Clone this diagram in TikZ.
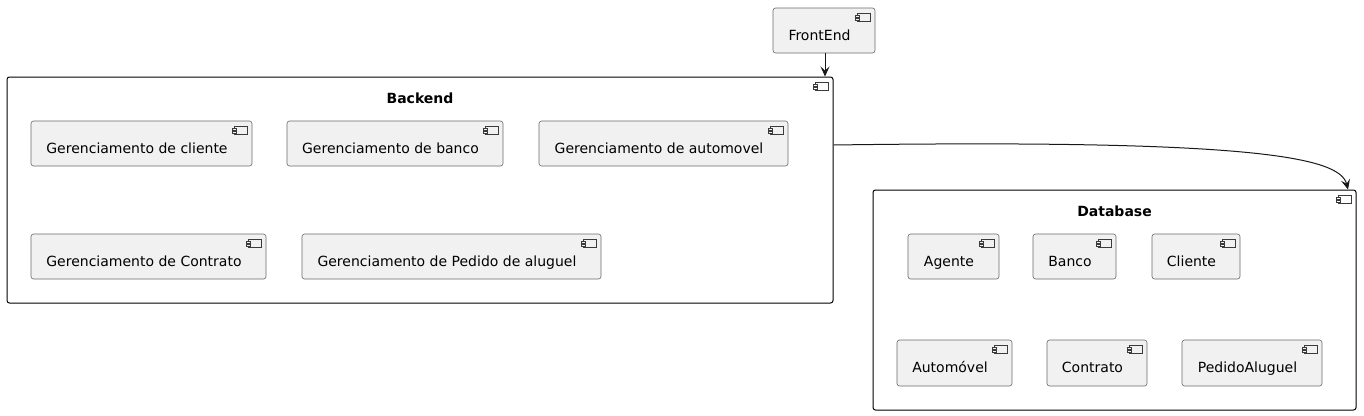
\documentclass[tikz,border=0pt]{standalone}
\usepackage{fontspec}
\setmainfont{DejaVu Sans}
\usetikzlibrary{fit,calc,arrows.meta}
\definecolor{cfill}{HTML}{F1F1F1}
\definecolor{cline}{HTML}{181818}
\definecolor{cborder}{HTML}{6A6A6A}
\tikzset{
  comp/.style={draw=cborder, line width=0.6pt, fill=cfill, rounded corners=2.5pt, inner sep=0pt},
  container/.style={draw=black, line width=1pt, fill=white, rounded corners=2.5pt, inner sep=0pt},
  lbl/.style={font=\fontsize{14}{16}\selectfont, anchor=base, inner sep=0pt},
  title/.style={font=\fontsize{14}{16}\selectfont\bfseries, anchor=base, inner sep=0pt},
  icon/.style={draw=cline!85, line width=0.45pt},
  conn/.style={draw=cline, line width=1pt, -{Stealth[length=10pt,width=9pt,inset=4pt]}},
}
\newcommand\compicon[2]{%
  \fill[#2] ($(#1.north east)+(-18pt,-6pt)$) rectangle ($(#1.north east)+(-5pt,-14pt)$);
  \draw[icon] ($(#1.north east)+(-18pt,-6pt)$) rectangle ($(#1.north east)+(-5pt,-14pt)$);
  \draw[icon,fill=#2] ($(#1.north east)+(-20pt,-8pt)$) rectangle ($(#1.north east)+(-16pt,-9.8pt)$);
  \draw[icon,fill=#2] ($(#1.north east)+(-20pt,-10.8pt)$) rectangle ($(#1.north east)+(-16pt,-12.6pt)$);
}
\newcommand\mycomp[6]{%
  \node[comp, fit={(#2,#3) (#4,#5)}] (#1) {};
  \node[lbl] (#1-t) at ($(#1.center)+(-4.5pt,-9.5pt)$) {#6};
  \compicon{#1}{cfill}
}
\begin{document}
\begin{tikzpicture}[x=1pt,y=-1pt]
\useasboundingbox (0,0) rectangle (1364,415);
% containers
\node[container, fit={(7,77) (833,303)}] (backend) {};
\node[title] (backend-t) at ($(backend.north)+(0pt,-27pt)$) {Backend};
\compicon{backend}{white}
\node[container, fit={(873,190) (1356,410)}] (database) {};
\node[title] (database-t) at ($(database.north)+(0pt,-27pt)$) {Database};
\compicon{database}{white}
% FrontEnd
\mycomp{frontend}{773}{8}{875}{53}{FrontEnd}
% Backend components
\mycomp{gcli}{31}{121}{252}{166}{Gerenciamento de cliente}
\mycomp{gban}{287}{121}{503}{166}{Gerenciamento de banco}
\mycomp{gaut}{539}{121}{788}{166}{Gerenciamento de automovel}
\mycomp{gcon}{31}{234}{266}{279}{Gerenciamento de Contrato}
\mycomp{gped}{302}{234}{601}{279}{Gerenciamento de Pedido de aluguel}
% Database components
\mycomp{agente}{908}{234}{999}{279}{Agente}
\mycomp{banco}{1033}{234}{1116}{279}{Banco}
\mycomp{cliente}{1152}{234}{1240}{279}{Cliente}
\mycomp{automovel}{897}{340}{1012}{386}{Automóvel}
\mycomp{contrato}{1047}{340}{1147}{386}{Contrato}
\mycomp{pedido}{1182}{340}{1322}{386}{PedidoAluguel}
% connectors
\draw[conn] (frontend.south -| 825,0) -- (backend.north -| 825,0);
\draw[conn] (backend.east |- 0,145) .. controls (1260,139) and (1340,158) .. (database.north -| 1348,0);
\end{tikzpicture}
\end{document}
